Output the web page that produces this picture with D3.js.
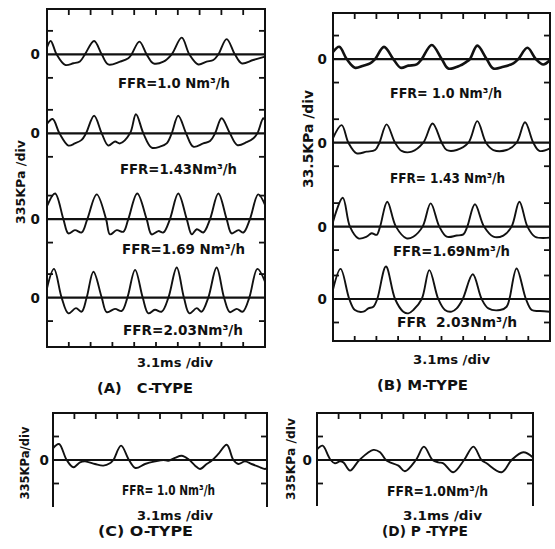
<!DOCTYPE html>
<html>
<head>
<meta charset="utf-8">
<script src="https://cdn.jsdelivr.net/npm/d3@7"></script>
<style>
  body { margin: 0; background: #fff; }
  text { font-family: "DejaVu Sans", sans-serif; font-weight: bold; fill: #111; }
</style>
</head>
<body>
<div id="chart"></div>
<script>
// Pressure traces: [time in divisions (3.1 ms/div), pressure in divisions (33.5 kPa/div)]
const cType10 = [[0,0.3],[0.17,0.57],[0.44,0],[0.83,-0.45],[1.21,-0.38],[1.51,-0.3],[1.74,0],[2.16,0.57],[2.51,0],[2.81,-0.43],[3.35,-0.31],[3.73,-0.17],[3.88,0],[4.24,0.54],[4.57,0],[4.88,-0.38],[5.34,-0.31],[5.72,0],[6.18,0.71],[6.53,0],[6.94,-0.43],[7.32,-0.31],[7.63,-0.24],[7.86,0],[8.24,0.65],[8.62,0],[8.93,-0.38],[9.46,-0.24],[10,-0.1]]
const cType143 = [[0,0.4],[0.26,0.61],[0.57,0],[0.98,-0.52],[1.28,-0.43],[1.59,-0.28],[1.79,0],[2.16,0.75],[2.51,0],[2.81,-0.52],[3.12,-0.35],[3.35,-0.43],[3.81,0],[4.08,0.81],[4.42,0],[4.8,-0.61],[5.18,-0.57],[5.49,-0.43],[5.72,0],[6.02,0.75],[6.38,0],[6.71,-0.57],[7.17,-0.43],[7.48,-0.33],[7.71,0],[8.01,0.64],[8.39,0],[8.73,-0.5],[9.16,-0.38],[9.47,-0.21],[9.65,0],[9.92,0.64],[10,0.55]]
const cType169 = [[0,0.55],[0.37,1.09],[0.75,0],[0.98,-0.61],[1.28,-0.47],[1.59,-0.57],[1.85,0],[2.28,1.05],[2.71,0],[2.89,-0.65],[3.2,-0.47],[3.5,-0.54],[3.73,0],[4.14,1.09],[4.57,0],[4.8,-0.65],[5.11,-0.51],[5.34,-0.57],[5.64,0],[6.02,1.09],[6.41,0],[6.64,-0.65],[6.87,-0.43],[7.17,-0.57],[7.48,0],[7.86,1.09],[8.24,0],[8.47,-0.61],[8.78,-0.47],[9.01,-0.57],[9.31,0],[9.69,1.05],[10,0.6]]
const cType203 = [[0,0.4],[0.32,1.22],[0.67,0],[0.98,-0.67],[1.33,-0.45],[1.59,-0.6],[1.82,0],[2.13,1.1],[2.51,0],[2.74,-0.62],[3.12,-0.48],[3.43,-0.57],[3.69,0],[4.04,1.18],[4.39,0],[4.65,-0.67],[4.95,-0.52],[5.26,-0.6],[5.57,0],[5.95,1.28],[6.28,0],[6.53,-0.67],[6.87,-0.45],[7.09,-0.6],[7.4,0],[7.78,1.28],[8.12,0],[8.39,-0.62],[8.7,-0.48],[8.98,-0.6],[9.28,0],[9.65,1.22],[10,0.68]]

const mType10 = [[0,0.3],[0.29,0.52],[0.63,0],[1.01,-0.37],[1.4,-0.28],[1.71,-0.18],[1.94,0],[2.35,0.52],[2.78,0],[3.12,-0.37],[3.47,-0.28],[3.86,-0.23],[4.09,0],[4.55,0.6],[5.01,0],[5.31,-0.4],[5.85,-0.28],[6.16,-0.11],[6.31,0],[6.65,0.57],[7.08,0],[7.39,-0.4],[7.85,-0.33],[8.31,-0.18],[8.54,0],[8.96,0.48],[9.35,0],[9.69,-0.23],[10,-0.04]]
const mType143 = [[0,0.2],[0.4,0.75],[0.71,0],[1.09,-0.45],[1.55,-0.38],[1.94,-0.31],[2.14,0],[2.47,0.78],[2.86,0],[3.16,-0.35],[3.63,-0.38],[4.16,0],[4.59,0.82],[5.01,0],[5.24,-0.31],[5.7,-0.31],[6.24,0],[6.65,0.92],[7.05,0],[7.39,-0.31],[8.0,-0.31],[8.46,0],[8.85,0.87],[9.23,0],[9.51,-0.35],[10,-0.24]]
const mType169 = [[0,0.2],[0.45,1.23],[0.78,0],[1.17,-0.5],[1.55,-0.43],[1.78,-0.28],[2.01,-0.35],[2.17,0],[2.5,1.06],[2.9,0],[3.39,-0.5],[3.7,-0.43],[4.13,0],[4.5,0.99],[4.9,0],[5.24,-0.43],[5.7,-0.38],[6.01,-0.33],[6.19,0],[6.54,0.95],[6.96,0],[7.39,-0.43],[7.85,-0.38],[8.23,0],[8.59,1.06],[8.96,0],[9.31,-0.43],[10,-0.47]]
const mType203 = [[0,0.4],[0.35,1.28],[0.75,0],[1.01,-0.47],[1.4,-0.54],[1.63,-0.4],[1.86,-0.33],[2.04,0],[2.44,1.38],[2.86,0],[3.24,-0.54],[3.47,-0.61],[3.7,-0.47],[4.09,0],[4.44,1.23],[4.85,0],[5.16,-0.47],[5.47,-0.54],[5.7,-0.4],[5.98,0],[6.44,1.05],[6.85,0],[7.16,-0.4],[7.7,-0.47],[8.0,-0.33],[8.13,0],[8.46,1.3],[8.89,0],[9.16,-0.47],[9.54,-0.51],[10,-0.54]]

const oType10 = [[0,0.5],[0.28,0.68],[0.64,0],[0.95,-0.31],[1.26,-0.1],[1.5,-0.06],[1.96,-0.17],[2.35,-0.24],[2.66,-0.14],[2.82,0],[3.18,0.61],[3.55,0],[3.86,-0.34],[4.3,-0.17],[4.77,-0.06],[5.16,0],[5.39,-0.03],[5.7,0.09],[6.01,0.18],[6.32,0.04],[6.64,-0.24],[6.87,-0.38],[7.18,-0.17],[7.41,-0.03],[7.73,0.26],[8.12,0.65],[8.43,0],[8.66,-0.17],[8.97,-0.06],[9.28,-0.17],[9.6,-0.28],[9.91,-0.38],[10,-0.34]]
const pType10 = [[0,0.45],[0.26,0.61],[0.52,0.18],[0.63,0],[0.83,-0.14],[1.06,-0.06],[1.22,-0.1],[1.53,-0.45],[1.96,0],[2.61,0.43],[2.92,0.33],[3.19,0],[3.38,-0.1],[3.77,-0.24],[4.07,-0.48],[4.58,0],[4.95,0.57],[5.35,0],[5.62,-0.1],[5.85,-0.14],[6.31,-0.52],[6.81,0],[7.24,0.57],[7.62,0],[7.85,-0.14],[8.55,-0.52],[9.01,0],[9.55,0.33],[10,0.11]]

// Labels
const cTypeLabels = ["FFR=1.0 Nm³/h", "FFR=1.43Nm³/h", "FFR=1.69 Nm³/h", "FFR=2.03Nm³/h"]
const mTypeLabels = ["FFR= 1.0 Nm³/h", "FFR= 1.43 Nm³/h", "FFR=1.69Nm³/h", "FFR  2.03Nm³/h"]
const oTypeLabels = ["FFR= 1.0 Nm³/h"]
const pTypeLabels = ["FFR=1.0Nm³/h"]
const titles = ["(A)   C-TYPE", "(B) M-TYPE", "(C) O-TYPE", "(D) P -TYPE"]
const yTitles = ["335KPa /div", "33.5KPa /div", "335KPa/div", "335KPa /div"]
const xTitle = "3.1ms /div"
const xDivs = d3.range(0, 11)

const width = 555, height = 549
const divPx = 23.5   // vertical size of one division on the screen

// Panel layout (pixels)
const panels = [
    { left: 47, right: 265, top: 9, bottom: 347, open: false, zeros: [1.93, 5.29, 8.94, 12.28],
      series: [cType10, cType143, cType169, cType203], labels: cTypeLabels, title: titles[0], yTitle: yTitles[0],
      zeroX: 40, labelPos: [[118, 1.2, 112], [120, 1.52, 117], [122, 1.28, 123], [123, 1.38, 120]],
      xTitlePos: [137, 362, 76, 13], titlePos: [97, 388, 96, 13.5], yTitlePos: [20, 182, 84, 13] },
    { left: 333, right: 550, top: 13, bottom: 341, open: false, zeros: [1.96, 5.52, 9.09, 12.17],
      series: [mType10, mType143, mType169, mType203], labels: mTypeLabels, title: titles[1], yTitle: yTitles[1],
      zeroX: 327, labelPos: [[390, 1.45, 112], [390, 1.5, 115], [393, 1.03, 117], [397, 0.98, 120]],
      xTitlePos: [413, 359, 77, 13], titlePos: [377, 385, 91, 14], yTitlePos: [308, 139, 98, 13.5], thick: 2.6 },
    { left: 53, right: 267, top: 413, bottom: 507, open: true, zeros: [2],
      series: [oType10], labels: oTypeLabels, title: titles[2], yTitle: yTitles[2],
      zeroX: 49, labelPos: [[122, 1.28, 93]],
      xTitlePos: [137, 516, 76, 11.5], titlePos: [98, 531, 95, 13.5], yTitlePos: [25, 463, 73, 11.5] },
    { left: 317, right: 533, top: 413, bottom: 506, open: true, zeros: [2],
      series: [pType10], labels: pTypeLabels, title: titles[3], yTitle: yTitles[3],
      zeroX: 312, labelPos: [[387, 1.32, 101]],
      xTitlePos: [403, 516, 79, 11.5], titlePos: [382, 531, 86, 13.5], yTitlePos: [291, 459, 82, 12.3] }
]

const svg = d3.select("#chart").append("svg")
    .attr("width", width)
    .attr("height", height)
    .attr("viewBox", [0, 0, width, height])

svg.append("rect").attr("width", width).attr("height", height).attr("fill", "#fff")

function addText(t, x, y, w, size) {
    return svg.append("text")
        .attr("x", x)
        .attr("y", y)
        .attr("font-size", size + "px")
        .attr("dominant-baseline", "central")
        .attr("textLength", w)
        .attr("lengthAdjust", "spacingAndGlyphs")
        .style("white-space", "pre")
        .text(t)
}

panels.forEach(p => {
    const x = d3.scaleLinear().domain([0, 10]).range([p.left, p.right])
    const y = d3.scaleLinear().domain([0, (p.bottom - p.top) / divPx]).range([p.top, p.bottom])
    const g = svg.append("g")

    // frame (C and D have no bottom edge)
    const frame = p.open
        ? `M${p.left},${p.bottom}V${p.top}H${p.right}V${p.bottom}`
        : `M${p.left},${p.bottom}V${p.top}H${p.right}V${p.bottom}Z`
    g.append("path").attr("d", frame).attr("fill", "none").attr("stroke", "#111").attr("stroke-width", 2)

    // time ticks
    g.append("g").selectAll("line").data(xDivs).join("line")
        .attr("x1", d => x(d)).attr("x2", d => x(d))
        .attr("y1", p.top).attr("y2", p.top + 6)
        .attr("stroke", "#111").attr("stroke-width", 1.8)
    if (!p.open) {
        g.append("g").selectAll("line").data(xDivs.slice(1, -1)).join("line")
            .attr("x1", d => x(d)).attr("x2", d => x(d))
            .attr("y1", p.bottom).attr("y2", p.bottom - 5)
            .attr("stroke", "#111").attr("stroke-width", 1.8)
    }

    // pressure ticks, one division above and below each zero line, both sides
    const yt = p.zeros.flatMap(z => [z - 1, z + 1])
    ;[[p.left, 6], [p.right, -6]].forEach(([sx, len]) => {
        g.append("g").selectAll("line").data(yt).join("line")
            .attr("x1", sx).attr("x2", sx + len)
            .attr("y1", d => y(d)).attr("y2", d => y(d))
            .attr("stroke", "#111").attr("stroke-width", 1.8)
    })

    p.zeros.forEach((z, i) => {
        // zero line
        g.append("line")
            .attr("x1", p.left).attr("x2", p.right)
            .attr("y1", y(z)).attr("y2", y(z))
            .attr("stroke", "#111").attr("stroke-width", 2.2)

        const line = d3.line()
            .x(d => x(d[0]))
            .y(d => y(z - d[1]))
            .curve(d3.curveCatmullRom.alpha(0.5))

        g.append("path")
            .datum(p.series[i])
            .attr("d", line)
            .attr("fill", "none")
            .attr("stroke", "#111")
            .attr("stroke-width", i === 0 && p.thick ? p.thick : 1.9)
            .attr("stroke-linejoin", "round")

        svg.append("text")
            .attr("x", p.zeroX)
            .attr("y", y(z))
            .attr("text-anchor", "end")
            .attr("dominant-baseline", "central")
            .attr("font-size", "13.5px")
            .text("0")

        const [lx, ldy, lw] = p.labelPos[i]
        addText(p.labels[i], lx, y(z + ldy), lw, 13.5)
    })

    addText(xTitle, p.xTitlePos[0], p.xTitlePos[1], p.xTitlePos[2], p.xTitlePos[3])
    addText(p.title, p.titlePos[0], p.titlePos[1], p.titlePos[2], p.titlePos[3])

    const [cx, cy, w, s] = p.yTitlePos
    svg.append("text")
        .attr("transform", `translate(${cx},${cy}) rotate(-90)`)
        .attr("text-anchor", "middle")
        .attr("dominant-baseline", "central")
        .attr("font-size", s + "px")
        .attr("textLength", w)
        .attr("lengthAdjust", "spacingAndGlyphs")
        .text(p.yTitle)
})
</script>
</body>
</html>
